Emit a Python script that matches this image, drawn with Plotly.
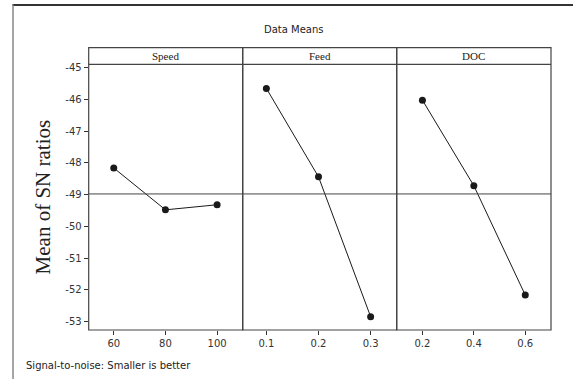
import plotly.graph_objects as go

# ---- data ----
factors = ["Speed", "Feed", "DOC"]
speed_levels = [60, 80, 100]
speed_sn = [-48.16, -49.48, -49.32]
feed_levels = [0.1, 0.2, 0.3]
feed_sn = [-45.65, -48.44, -52.85]
doc_levels = [0.2, 0.4, 0.6]
doc_sn = [-46.02, -48.72, -52.17]
speed_ticks = [60, 80, 100]
feed_ticks = [0.1, 0.2, 0.3]
doc_ticks = [0.2, 0.4, 0.6]
y_ticks = [-45, -46, -47, -48, -49, -50, -51, -52, -53]

W, H = 573, 379
def px(x):
    return x / W
def py(y):
    return 1 - y / H

left, right = 88.7, 551.0
seps = [88.7, 242.7, 396.7, 551.0]
plot_top, plot_bot = 64.3, 330.0
strip_top = 47.7

series = [(speed_levels, speed_sn), (feed_levels, feed_sn), (doc_levels, doc_sn)]
xranges = [[50.3, 109.9], [0.0546, 0.35], [0.1, 0.7]]
xticks = [speed_ticks, feed_ticks, doc_ticks]

fig = go.Figure()
axnames = ["x", "x2", "x3"]
for i, (xs, ys) in enumerate(series):
    fig.add_trace(go.Scatter(
        x=xs, y=ys, mode="lines+markers", xaxis=axnames[i], yaxis="y",
        line=dict(color="#1a1a1a", width=1),
        marker=dict(color="#1a1a1a", size=7),
        showlegend=False, hoverinfo="skip"))

tickfont = dict(family="DejaVu Sans", size=10, color="#333333")
layout = dict(
    template="none",
    width=W, height=H,
    margin=dict(l=0, r=0, t=0, b=0),
    paper_bgcolor="white", plot_bgcolor="white",
    showlegend=False,
)
for i in range(3):
    key = "xaxis" if i == 0 else f"xaxis{i+1}"
    layout[key] = dict(
        domain=[px(seps[i]), px(seps[i+1])],
        range=xranges[i], anchor="y", automargin=False,
        tickvals=xticks[i], ticktext=[str(t) for t in xticks[i]],
        ticks="outside", ticklen=4, tickcolor="#333333", tickwidth=1,
        showgrid=False, zeroline=False, showline=False,
        tickfont=tickfont,
    )
layout["yaxis"] = dict(
    domain=[py(plot_bot), py(plot_top)],
    range=[-53.27, -44.89], anchor="x", automargin=False,
    tickvals=y_ticks, ticktext=[str(t) for t in y_ticks],
    ticks="outside", ticklen=4, tickcolor="#333333", tickwidth=1,
    showgrid=False, zeroline=False, showline=False,
    tickfont=tickfont,
    title=dict(text="Mean of SN ratios",
               font=dict(family="Liberation Serif", size=21, color="#222222"),
               standoff=8),
)
fig.update_layout(**layout)

shapes = []
linec = "#444444"
# outer frame (top and left visible, rest off-canvas)
shapes.append(dict(type="line", xref="paper", yref="paper",
                   x0=px(12.5), x1=1.0, y0=py(5), y1=py(5),
                   line=dict(color="#333333", width=2)))
shapes.append(dict(type="line", xref="paper", yref="paper",
                   x0=px(13), x1=px(13), y0=py(4.5), y1=0,
                   line=dict(color="#888888", width=1.5)))
# grand mean reference line
allvals = speed_sn + feed_sn + doc_sn
grand_mean = sum(allvals) / len(allvals)
shapes.append(dict(type="line", xref="paper", yref="y",
                   x0=px(left), x1=px(right), y0=grand_mean, y1=grand_mean,
                   line=dict(color=linec, width=1)))
# panel boxes and strips
for i in range(3):
    shapes.append(dict(type="rect", xref="paper", yref="paper",
                       x0=px(seps[i]), x1=px(seps[i+1]),
                       y0=py(plot_bot), y1=py(strip_top),
                       line=dict(color=linec, width=1.2)))
shapes.append(dict(type="line", xref="paper", yref="paper",
                   x0=px(left), x1=px(right), y0=py(plot_top), y1=py(plot_top),
                   line=dict(color=linec, width=1.2)))

annotations = []
for i, f in enumerate(factors):
    annotations.append(dict(text=f, xref="paper", yref="paper",
                            x=px((seps[i] + seps[i+1]) / 2), y=py((strip_top + plot_top) / 2),
                            showarrow=False, xanchor="center", yanchor="middle",
                            font=dict(family="Liberation Serif", size=11, color="#222222")))
annotations.append(dict(text="Data Means", xref="paper", yref="paper",
                        x=px(294), y=py(29.3), showarrow=False,
                        xanchor="center", yanchor="middle",
                        font=dict(family="DejaVu Sans", size=10, color="#222222")))
annotations.append(dict(text="Signal-to-noise: Smaller is better", xref="paper", yref="paper",
                        x=px(24), y=py(365), showarrow=False,
                        xanchor="left", yanchor="middle",
                        font=dict(family="DejaVu Sans", size=10, color="#222222")))
fig.update_layout(shapes=shapes, annotations=annotations)

fig.write_html("out.html", config={"displayModeBar": False},
               post_script="document.body.style.margin='0';document.body.style.overflow='hidden';")
